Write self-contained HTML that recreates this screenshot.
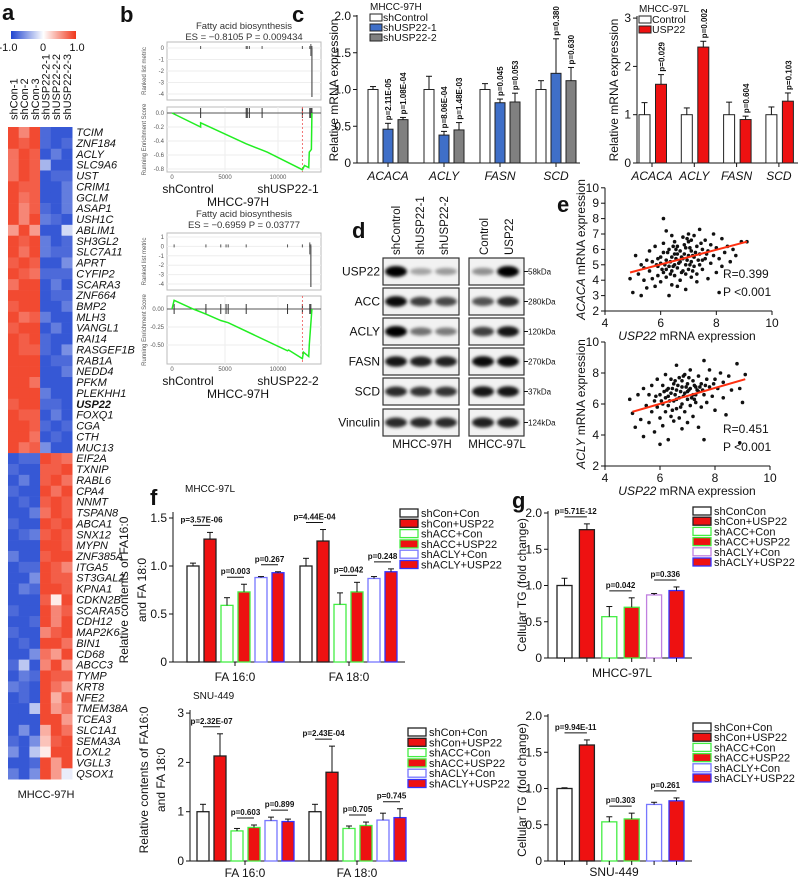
<!DOCTYPE html>
<html><head><meta charset="utf-8"><style>
html,body{margin:0;padding:0;background:#fff;}
svg{display:block;font-family:"Liberation Sans",Arial,sans-serif;}
</style></head>
<body>
<svg id="fig" width="798" height="878" viewBox="0 0 798 878" xmlns="http://www.w3.org/2000/svg">
<defs>
<linearGradient id="cbar" x1="0" x2="1" y1="0" y2="0"><stop offset="0" stop-color="#2045d0"/><stop offset="0.5" stop-color="#ffffff"/><stop offset="1" stop-color="#f0361a"/></linearGradient>
<filter id="blur" x="-30%" y="-80%" width="160%" height="260%"><feGaussianBlur stdDeviation="1.6"/></filter>
</defs>
</svg>
<script>
// ---------------- DATA ----------------
const hmGenes=["TCIM","ZNF184","ACLY","SLC9A6","UST","CRIM1","GCLM","ASAP1","USH1C","ABLIM1","SH3GL2","SLC7A11","APRT","CYFIP2","SCARA3","ZNF664","BMP2","MLH3","VANGL1","RAI14","RASGEF1B","RAB1A","NEDD4","PFKM","PLEKHH1","USP22","FOXQ1","CGA","CTH","MUC13",
"EIF2A","TXNIP","RABL6","CPA4","NNMT","TSPAN8","ABCA1","SNX12","MYPN","ZNF385A","ITGA5","ST3GAL2","KPNA1","CDKN2B","SCARA5","CDH12","MAP2K6","BIN1","CD68","ABCC3","TYMP","KRT8","NFE2","TMEM38A","TCEA3","SLC1A1","SEMA3A","LOXL2","VGLL3","QSOX1"];
const hmSamples=["shCon-1","shCon-2","shCon-3","shUSP22-2-1","shUSP22-2-2","shUSP22-2-3"];
const hmValues=[
[9,6,9,-8,-9,-9],[9,8,9,-8,-9,-8],[7,9,8,-9,-7,-9],[7,9,8,-4,-9,-9],[7,9,8,-9,-8,-8],[9,8,8,-9,-9,-7],[9,7,8,-9,-9,-7],[9,6,8,-8,-9,-7],[9,6,9,-7,-8,-9],[5,9,5,-9,-9,-2],
[9,8,9,-7,-9,-8],[9,7,9,-7,-8,-8],[8,9,8,-9,-9,-6],[9,8,7,-8,-8,-8],[7,9,9,-9,-7,-9],[9,9,9,-9,-8,-8],[8,9,9,-9,-9,-7],[9,7,8,-7,-9,-9],[8,9,9,-9,-7,-9],[9,8,9,-8,-9,-9],
[9,8,8,-8,-9,-6],[9,9,9,-9,-8,-8],[9,9,9,-9,-9,-7],[9,9,7,-9,-9,-9],[9,9,9,-7,-9,-9],[8,9,9,-8,-8,-9],[9,8,8,-9,-7,-9],[9,9,8,-8,-9,-8],[9,9,7,-9,-8,-9],[9,7,8,-6,-9,-9],
[-9,-8,-8,9,8,7],[-8,-9,-9,8,8,9],[-9,-7,-9,8,9,7],[-8,-9,-9,9,7,9],[-9,-8,-9,8,9,8],[-9,-9,-7,7,9,8],[-8,-9,-9,9,8,9],[-9,-8,-7,8,9,8],[-9,-9,-9,9,9,8],[-7,-9,-9,8,9,9],
[-9,-8,-8,9,8,6],[-9,-9,-6,9,8,8],[-9,-7,-8,9,9,8],[-9,-9,-9,8,1,9],[-8,-9,-9,9,6,8],[-9,-9,-8,9,6,9],[-8,-9,-9,6,8,9],[-9,-8,-9,9,9,7],[-9,-9,-6,7,5,9],[-8,-3,-9,6,9,5],
[-9,-7,-8,9,8,8],[-7,-8,-9,9,7,5],[-9,-8,-9,9,4,8],[-9,-9,-3,9,5,7],[-9,-9,-9,9,9,5],[-9,-6,-9,4,9,7],[-8,-9,-6,3,8,9],[-6,-9,-3,1,9,9],[-9,-9,-8,9,5,9],[-7,-9,-6,9,5,-1]];

const gsea1Rank=[0,2700,2700,7000,8500,9000,12300,12500,12900,12950,13150,13200];
const gsea1ES=[0,-0.2,-0.14,-0.44,-0.53,-0.56,-0.81,-0.75,-0.78,-0.56,-0.52,0];
const gsea1Hits=[2700,7000,7100,7300,8500,12300,13000,13100,13200];
const gsea2Rank=[0,200,2000,3200,4600,5300,10900,11000,12300,12400,12900,12950,13200];
const gsea2ES=[0,0.12,0,-0.07,-0.16,-0.19,-0.58,-0.57,-0.69,-0.6,-0.66,-0.5,0];
const gsea2Hits=[200,3200,4600,5100,5300,7000,10900,12300,13000,13100];

const cGenes=["ACACA","ACLY","FASN","SCD"];
const cH_ctrl=[1.0,1.0,1.0,1.0];
const cH_sh1=[0.46,0.38,0.82,1.22];
const cH_sh2=[0.59,0.45,0.83,1.12];
const cH_ctrlErr=[0.04,0.18,0.08,0.12];
const cH_sh1Err=[0.08,0.05,0.05,0.47];
const cH_sh2Err=[0.03,0.10,0.12,0.18];
const cH_p1=["p=2.11E-05","p=8.06E-04","p=0.045","p=0.380"];
const cH_p2=["p=1.08E-04","p=1.48E-03","p=0.053","p=0.630"];
const cL_ctrl=[1.0,1.0,1.0,1.0];
const cL_usp=[1.63,2.40,0.90,1.28];
const cL_ctrlErr=[0.25,0.14,0.26,0.16];
const cL_uspErr=[0.20,0.12,0.07,0.17];
const cL_p=["p=0.029","p=0.002","p=0.604","p=0.103"];

const wbProteins=["USP22","ACC","ACLY","FASN","SCD","Vinculin"];
const wbKda=["58kDa","280kDa","120kDa","270kDa","37kDa","124kDa"];
const wbLeft=[[1,0.2,0.25],[0.95,0.7,0.65],[1,0.45,0.4],[0.9,0.85,0.85],[0.8,0.75,0.75],[0.8,0.8,0.8]];
const wbRight=[[0.3,1],[0.6,0.8],[0.7,0.9],[0.95,0.95],[0.9,0.9],[0.85,0.85]];

const e1Pts=[[4.9,4.1],[5.0,3.2],[5.1,5.6],[5.2,4.4],[5.3,3.0],[5.3,5.0],[5.4,4.8],[5.5,5.3],[5.5,3.5],[5.6,4.6],[5.6,5.9],[5.7,4.1],[5.7,5.2],[5.8,3.6],[5.8,6.2],[5.9,4.9],[5.9,4.3],[6.0,5.5],[6.0,3.9],[6.0,5.1],[6.1,4.5],[6.1,6.4],[6.1,5.8],[6.2,4.2],[6.2,5.3],[6.2,7.2],[6.3,4.9],[6.3,3.0],[6.3,6.0],[6.4,4.6],[6.4,5.5],[6.4,3.7],[6.5,5.0],[6.5,6.5],[6.5,4.3],[6.6,5.7],[6.6,4.8],[6.6,6.2],[6.7,5.2],[6.7,4.0],[6.7,5.9],[6.8,4.6],[6.8,6.8],[6.8,5.4],[6.9,5.0],[6.9,3.4],[6.9,6.1],[7.0,4.7],[7.0,5.6],[7.0,6.5],[7.1,5.2],[7.1,4.2],[7.1,5.9],[7.2,6.9],[7.2,4.9],[7.2,5.5],[7.3,6.2],[7.3,4.4],[7.4,5.7],[7.4,7.3],[7.4,5.0],[7.5,6.0],[7.5,4.7],[7.6,5.4],[7.6,6.6],[7.7,4.1],[7.7,5.9],[7.8,6.3],[7.8,5.1],[7.9,7.0],[7.9,5.6],[8.0,4.5],[8.0,6.1],[8.1,5.4],[8.2,6.7],[8.2,4.9],[8.3,5.8],[8.4,6.2],[8.5,5.2],[8.6,6.0],[8.7,5.6],[8.9,6.5],[9.1,6.5],[6.1,8.0],[5.4,4.0],[6.6,3.6],[7.3,3.9],[8.1,3.2],[7.0,7.0],[6.4,6.9],[6.2,4.7],[6.9,4.4],[7.5,5.3],[6.5,5.7],[7.1,6.6],[5.9,5.4],
[6.15,5.0],[6.35,5.2],[6.45,4.9],[6.55,5.4],[6.65,5.1],[6.75,5.5],[6.85,5.7],[6.95,5.3],[7.05,5.0],[7.15,5.6],[7.25,5.8],[7.35,5.3],[6.25,5.8],[6.55,6.0],[6.85,6.3],[7.05,6.1],[6.35,4.4],[6.75,4.5],[7.15,4.6],[5.85,5.0],[6.05,4.7],[7.45,6.4],[7.65,5.7],[6.95,6.7],[6.45,6.2]];
const e1Line=[[4.9,4.5],[9.1,6.5]];
const e2Pts=[[4.9,6.3],[5.0,5.4],[5.1,4.5],[5.2,6.6],[5.3,5.0],[5.4,7.0],[5.4,3.9],[5.5,5.9],[5.6,6.6],[5.6,4.8],[5.7,7.2],[5.7,5.5],[5.8,6.2],[5.8,4.2],[5.9,7.6],[5.9,5.8],[6.0,6.6],[6.0,5.1],[6.1,7.2],[6.1,6.0],[6.1,4.6],[6.2,7.9],[6.2,6.4],[6.2,5.5],[6.3,7.0],[6.3,5.9],[6.3,3.7],[6.4,6.7],[6.4,7.6],[6.4,5.2],[6.5,6.2],[6.5,7.3],[6.5,4.9],[6.6,6.9],[6.6,5.7],[6.6,8.5],[6.7,6.4],[6.7,7.7],[6.7,5.1],[6.8,7.1],[6.8,6.0],[6.8,4.4],[6.9,6.7],[6.9,7.9],[6.9,5.5],[7.0,7.3],[7.0,6.3],[7.0,4.8],[7.1,7.0],[7.1,5.9],[7.1,8.2],[7.2,6.6],[7.2,7.5],[7.2,5.2],[7.3,7.1],[7.3,6.1],[7.4,7.8],[7.4,6.8],[7.4,4.5],[7.5,7.3],[7.5,5.8],[7.6,8.8],[7.6,6.6],[7.7,7.6],[7.7,6.1],[7.8,7.1],[7.8,8.2],[7.9,6.5],[8.0,7.6],[8.0,5.6],[8.1,7.0],[8.2,8.0],[8.3,6.4],[8.3,7.4],[8.4,5.3],[8.5,7.8],[8.6,6.9],[8.8,8.6],[8.9,7.0],[9.0,6.1],[9.1,7.9],[8.9,3.5],[6.0,3.4],[7.6,3.7],[6.6,6.3],[7.0,6.8],[6.3,6.5],[7.3,6.6],[6.8,7.5],
[6.15,6.8],[6.35,6.2],[6.45,7.0],[6.55,6.6],[6.65,7.2],[6.75,6.8],[6.85,6.5],[6.95,7.1],[7.05,6.9],[7.15,6.4],[7.25,7.2],[7.35,6.9],[7.45,7.1],[7.55,6.9],[6.25,6.9],[6.55,7.5],[6.85,7.8],[7.05,7.7],[7.25,6.3],[6.45,5.6],[6.75,5.8],[7.65,7.2],[5.85,6.5],[6.05,6.2],[7.95,7.3]];
const e2Line=[[5.0,5.5],[9.1,7.6]];

const fGroups=["FA 16:0","FA 18:0"];
const fTreat=["shCon+Con","shCon+USP22","shACC+Con","shACC+USP22","shACLY+Con","shACLY+USP22"];
const f97L_16=[1.0,1.28,0.59,0.73,0.88,0.93];
const f97L_18=[1.0,1.26,0.60,0.73,0.87,0.94];
const f97L_16err=[0.03,0.07,0.08,0.08,0.01,0.01];
const f97L_18err=[0.08,0.12,0.12,0.10,0.02,0.03];
const f97L_p16=["p=3.57E-06","p=0.003","p=0.267"];
const f97L_p18=["p=4.44E-04","p=0.042","p=0.248"];
const fSNU_16=[1.0,2.13,0.61,0.68,0.82,0.80];
const fSNU_18=[1.0,1.80,0.66,0.72,0.83,0.88];
const fSNU_16err=[0.15,0.45,0.05,0.05,0.07,0.05];
const fSNU_18err=[0.15,0.53,0.05,0.07,0.14,0.18];
const fSNU_p16=["p=2.32E-07","p=0.603","p=0.899"];
const fSNU_p18=["p=2.43E-04","p=0.705","p=0.745"];

const g97L=[1.0,1.77,0.57,0.70,0.87,0.93];
const g97Lerr=[0.10,0.08,0.14,0.13,0.02,0.05];
const g97Lp=["p=5.71E-12","p=0.042","p=0.336"];
const gSNU=[1.0,1.60,0.54,0.58,0.78,0.83];
const gSNUerr=[0.01,0.07,0.07,0.08,0.03,0.04];
const gSNUp=["p=9.94E-11","p=0.303","p=0.261"];
const gTicks=[0,0.5,1.0,1.5,2.0];

// ---------------- HELPERS ----------------
const NS='http://www.w3.org/2000/svg';
const svg=document.getElementById('fig');
function mk(tag,attrs,parent){const e=document.createElementNS(NS,tag);for(const k in attrs)e.setAttribute(k,attrs[k]);(parent||svg).appendChild(e);return e;}
function T(x,y,s,size,name,o){o=o||{};
 const t=mk('text',{x:x,y:y,'font-size':size,'text-anchor':o.a||'start','fill':o.fill||'#111'});
 if(o.it)t.setAttribute('font-style','italic');
 if(o.b)t.setAttribute('font-weight','bold');
 if(o.rot)t.setAttribute('transform','rotate(-90 '+x+' '+y+')');
 t.textContent=s;
 
 
 return t;}
function L(x1,y1,x2,y2,name,st,sw,dash){
 const l=mk('line',{x1:x1,y1:y1,x2:x2,y2:y2,stroke:st||'#111','stroke-width':sw||1});
 if(dash)l.setAttribute('stroke-dasharray',dash);
 
 
 return l;}
function R(x,y,w,h,name,fill,stroke,sw){
 const r=mk('rect',{x:x,y:y,width:Math.max(0,w),height:Math.max(0,h),fill:fill||'none',stroke:stroke||'none','stroke-width':sw||1});
 
 
 return r;}
function errbar(cx,yTop,yErr,name){L(cx,yTop,cx,yErr,name);L(cx-3,yErr,cx+3,yErr,name+'-cap');}
function hmColor(v){v=Math.max(-1,Math.min(1,v));
 const blue=[32,69,208],red=[240,54,26];
 const c=v<0?blue:red;const t=Math.abs(v);
 return 'rgb('+c.map(k=>Math.round(255+(k-255)*t)).join(',')+')';}

// ---------------- PANEL A ----------------
T(2,20,'a',22,'panel-label-a',{b:true});
R(11,31,65,8,'heatmap-color-scale','url(#cbar)');
T(8,51,'-1.0',11,'color-scale-min',{a:'middle'});
T(43,51,'0',11,'color-scale-mid',{a:'middle'});
T(77,51,'1.0',11,'color-scale-max',{a:'middle'});
const hmX0=8,hmY0=127,cellW=10.7,cellH=10.87;
hmSamples.forEach((s,i)=>{T(hmX0+cellW*i+cellW/2+4,120,s,11,'heatmap-column-label',{rot:true});});
hmValues.forEach((row,r)=>{
 row.forEach((v,c)=>{
  const cell=R(hmX0+c*cellW,hmY0+r*cellH,cellW+0.3,cellH+0.3,'heatmap-cell',hmColor(v/10));
  
 });
 const g=T(hmX0+6*cellW+4,hmY0+r*cellH+cellH-1.8,hmGenes[r],11,'gene-label',{it:true,b:hmGenes[r]==='USP22'});
 
});
T(46,798,'MHCC-97H',11,'heatmap-cell-line-label',{a:'middle'});

// ---------------- PANEL B ----------------
T(120,22,'b',22,'panel-label-b',{b:true});
function gsea(c,ranks,scores,hits,topTicks,botTicks,rightLabel,idx){
 const x0=167,x1=321,rx0=172,ppr=53/5000;
 const sx=r=>rx0+r*ppr;
 T(244,c.titleY,'Fatty acid biosynthesis',9.5,'gsea-title-'+idx,{a:'middle',fill:'#333'});
 T(244,c.esY,c.es,9.5,'gsea-es-'+idx,{a:'middle',fill:'#333'});
 R(x0,c.uy0,x1-x0,c.uy1-c.uy0,'ranked-metric-box','#fff','#bbb');
 topTicks.forEach((t,i)=>{const y=c.ut0+i*((c.ut1-c.ut0)/(topTicks.length-1));
  L(x0,y,x1,y,'grid-line','#eee');T(x0-3,y+2,t,6,'ranked-metric-tick',{a:'end',fill:'#555'});});
 T(146,(c.uy0+c.uy1)/2,'Ranked list metric',6,'ranked-metric-axis-title',{a:'middle',rot:true,fill:'#555'});
 const zTop=c.ut0+c.zIdx*((c.ut1-c.ut0)/(topTicks.length-1));
 hits.forEach(h=>{L(sx(h),zTop-2,sx(h),zTop+1,'ranked-metric-tick-mark','#555');});
 L(sx(hits[hits.length-1]),zTop,sx(hits[hits.length-1]),c.uy1-3,'ranked-metric-bar','#555',1.2);
 L(sx(hits[hits.length-2]),zTop-4,sx(hits[hits.length-2]),zTop+8,'ranked-metric-bar','#555',1);
 R(x0,c.ly0,x1-x0,c.ly1-c.ly0,'enrichment-score-box','#fff','#bbb');
 const b0=botTicks[0],bL=botTicks[botTicks.length-1];
 const sy=v=>c.lt0+(b0-v)/(b0-bL)*(c.lt1-c.lt0);
 botTicks.forEach(t=>{L(x0,sy(t),x1,sy(t),'grid-line','#eee');T(x0-3,sy(t)+2,t.toFixed(c.dec),6,'enrichment-score-tick',{a:'end',fill:'#555'});});
 [5000,10000].forEach(v=>L(sx(v),c.ly0,sx(v),c.ly1,'grid-line','#eee'));
 L(x0,sy(0),x1,sy(0),'zero-line','#555',1);
 hits.forEach(h=>{L(sx(h),sy(0)-5,sx(h),sy(0)+5,'gene-hit-mark','#333',1);});
 const minI=scores.indexOf(Math.min(...scores));
 L(sx(ranks[minI]),c.ly0,sx(ranks[minI]),c.ly1,'es-position-line','#e55',0.8,'2,2');
 const p=mk('polyline',{points:ranks.map((r,i)=>sx(r)+','+sy(scores[i])).join(' '),fill:'none',stroke:'#22ee22','stroke-width':1.5});
 
 
 T(146,(c.ly0+c.ly1)/2,'Running Enrichment Score',6,'enrichment-axis-title',{a:'middle',rot:true,fill:'#555'});
 [0,5000,10000].forEach(v=>T(sx(v),c.ly1+7,String(v),6,'rank-tick',{a:'middle',fill:'#555'}));
 T(188,c.ly1+21,'shControl',12,'gsea-left-label',{a:'middle'});
 T(288,c.ly1+21,rightLabel,12,'gsea-right-label',{a:'middle'});
 T(238,c.ly1+34,'MHCC-97H',12,'gsea-cell-line',{a:'middle'});
}
gsea({titleY:29,esY:40,es:'ES = −0.8105 P = 0.009434',uy0:42,uy1:100,ut0:48,ut1:94,zIdx:0,ly0:107,ly1:172,lt0:113,lt1:169,dec:1},
 gsea1Rank,gsea1ES,gsea1Hits,['0','-1','-2','-3','-4'],[0,-0.2,-0.4,-0.6,-0.8],'shUSP22-1',1);
gsea({titleY:217,esY:228,es:'ES = −0.6959 P = 0.03777',uy0:233,uy1:290,ut0:237,ut1:284,zIdx:1,ly0:296,ly1:364,lt0:309,lt1:345,dec:2},
 gsea2Rank,gsea2ES,gsea2Hits,['1','0','-1','-2','-3','-4'],[0,-0.25,-0.5],'shUSP22-2',2);

// ---------------- PANEL C ----------------
T(292,22,'c',22,'panel-label-c',{b:true});
function yAxis(x,yZero,ppu,ticks,fmt,name,top){
 L(x,yZero,x,top,name+'-line');
 ticks.forEach(t=>{const y=yZero-t*ppu;L(x-4,y,x,y,name+'-tick');T(x-6,y+4,fmt(t),12,name+'-tick-label',{a:'end'});});
}
const cHz=163,cHppu=73.5;
yAxis(357,cHz,cHppu,[0,0.5,1.0,1.5,2.0],t=>t===0?'0':t.toFixed(1),'c-left-y-axis',15);
L(357,cHz,580,cHz,'c-left-x-axis');
T(338,90,'Relative mRNA expression',12,'c-left-y-title',{a:'middle',rot:true});
cGenes.forEach((g,i)=>{
 const cx=388+i*56;
 L(cx,cHz,cx,cHz+4,'x-tick');
 T(cx,cHz+17,g,12,'c-left-gene-label',{a:'middle',it:true});
 const series=[[cH_ctrl,cH_ctrlErr,'#fff',null],[cH_sh1,cH_sh1Err,'#3f6fc8',cH_p1],[cH_sh2,cH_sh2Err,'#808080',cH_p2]];
 series.forEach((s,j)=>{
  const bx=cx-20+j*15,v=s[0][i],e=s[1][i];
  const b=R(bx,cHz-v*cHppu,10,v*cHppu,'bar',s[2],'#222');
  
  errbar(bx+5,cHz-v*cHppu,cHz-(v+e)*cHppu,'error-bar');
  if(s[3])T(bx+8,cHz-(v+e)*cHppu-3,s[3][i],8,'p-value-label',{rot:true,b:true});
 });
});
T(370,10,'MHCC-97H',10,'c-left-legend-title');
[['shControl','#fff'],['shUSP22-1','#3f6fc8'],['shUSP22-2','#808080']].forEach((l,i)=>{
 R(370,14+i*10,12,7,'legend-swatch',l[1],'#222');
 T(383,21+i*10,l[0],10.5,'legend-entry');
});
const cLz=163,cLppu=48.3;
yAxis(637,cLz,cLppu,[0,1,2,3],t=>String(t),'c-right-y-axis',16);
L(637,cLz,798,cLz,'c-right-x-axis');
T(618,90,'Relative mRNA expression',12,'c-right-y-title',{a:'middle',rot:true});
cGenes.forEach((g,i)=>{
 const gx=639+i*42.3;
 T(gx+13,cLz+17,g,12,'c-right-gene-label',{a:'middle',it:true});
 L(gx+13,cLz,gx+13,cLz+4,'x-tick');
 [[cL_ctrl,cL_ctrlErr,'#fff'],[cL_usp,cL_uspErr,'#ee1111']].forEach((s,j)=>{
  const bx=gx+j*16.5,v=s[0][i],e=s[1][i];
  const b=R(bx,cLz-v*cLppu,11,v*cLppu,'bar',s[2],'#222');
  
  errbar(bx+5.5,cLz-v*cLppu,cLz-(v+e)*cLppu,'error-bar');
  if(j===1)T(bx+9,cLz-(v+e)*cLppu-3,cL_p[i],8,'p-value-label',{rot:true,b:true});
 });
});
T(639,12,'MHCC-97L',10,'c-right-legend-title');
R(639,16,12,7,'legend-swatch','#fff','#222');T(652,23,'Control',10.5,'legend-entry');
R(639,26,12,7,'legend-swatch','#ee1111','#222');T(652,33,'USP22',10.5,'legend-entry');

// ---------------- PANEL D ----------------
T(352,238,'d',22,'panel-label-d',{b:true});
['shControl','shUSP22-1','shUSP22-2'].forEach((s,i)=>T(400+i*24,255,s,11.5,'blot-lane-label',{rot:true}));
['Control','USP22'].forEach((s,i)=>T(488+i*25,255,s,11.5,'blot-lane-label',{rot:true}));
const rowTops=[258,288,318,348,378,409],rowH=27;
wbProteins.forEach((p,r)=>{
 const y=rowTops[r];
 R(383,y,76,rowH,'blot-left-'+p,'#f2f2f2','#333',1.2);
 R(469,y,55,rowH,'blot-right-'+p,'#f2f2f2','#333',1.2);
 T(380,y+rowH/2+4,p,12,'blot-protein-label',{a:'end'});
 L(524,y+rowH/2,528,y+rowH/2,'kda-tick');
 T(528,y+rowH/2+3,wbKda[r],8,'kda-label');
 wbLeft[r].forEach((v,c)=>{const e=mk('ellipse',{cx:396+c*25,cy:y+rowH/2,rx:11,ry:3+2.5*v,fill:'#000','fill-opacity':Math.min(1,0.15+v*0.85),filter:'url(#blur)'});
  
  });
 wbRight[r].forEach((v,c)=>{const e=mk('ellipse',{cx:483+c*25,cy:y+rowH/2,rx:11,ry:3+2.5*v,fill:'#000','fill-opacity':Math.min(1,0.15+v*0.85),filter:'url(#blur)'});
  
  });
});
T(422,448,'MHCC-97H',11.5,'blot-cell-line-left',{a:'middle'});
T(497,448,'MHCC-97L',11.5,'blot-cell-line-right',{a:'middle'});

// ---------------- PANEL E ----------------
T(557,212,'e',22,'panel-label-e',{b:true});
function scatter(pts,line,y0px,ppuY,ticks,ylab,rTxt,idx,x10){
 const ax=605,ppuX=(x10-ax)/6;
 const sx=v=>ax+(v-4)*ppuX,sy=v=>y0px-(v-2)*ppuY;
 L(ax,y0px,ax,sy(10),'e-y-axis-'+idx);
 L(ax,y0px,x10,y0px,'e-x-axis-'+idx);
 ticks.forEach(t=>{L(ax-4,sy(t),ax,sy(t),'y-tick');T(ax-6,sy(t)+4,String(t),12,'e-y-tick-label',{a:'end'});});
 [4,6,8,10].forEach(t=>{L(sx(t),y0px,sx(t),y0px+4,'x-tick');T(sx(t),y0px+16,String(t),12,'e-x-tick-label',{a:'middle'});});
 pts.forEach(p=>{const c=mk('circle',{cx:sx(p[0]),cy:sy(p[1]),r:1.8,fill:'#111'});
  
  });
 L(sx(line[0][0]),sy(line[0][1]),sx(line[1][0]),sy(line[1][1]),'regression-line','#ff3010',2);
 const t=T(585,(y0px+sy(10))/2,'',12,'e-y-title-'+idx,{a:'middle',rot:true});
 const ts=document.createElementNS(NS,'tspan');ts.setAttribute('font-style','italic');ts.textContent=ylab;t.appendChild(ts);t.appendChild(document.createTextNode(' mRNA expression'));
 const xt=T(687,y0px+29,'',12,'e-x-title-'+idx,{a:'middle'});
 const ts2=document.createElementNS(NS,'tspan');ts2.setAttribute('font-style','italic');ts2.textContent='USP22';xt.appendChild(ts2);xt.appendChild(document.createTextNode(' mRNA expression'));
 T(723,y0px-33,rTxt,12,'correlation-r');
 T(723,y0px-15,'P <0.001',12,'correlation-p');
}
scatter(e1Pts,e1Line,311,15.4,[2,3,4,5,6,7,8,9,10],'ACACA','R=0.399',1,772);
scatter(e2Pts,e2Line,466,15.5,[2,4,6,8,10],'ACLY','R=0.451',2,770);

// ---------------- PANEL F ----------------
T(150,505,'f',22,'panel-label-f',{b:true});
const treatFill=['#fff','#ee1111','#fff','#ee1111','#fff','#ee1111'];
const treatStroke=['#222','#222','#44ee44','#44ee44','#7777ff','#3333ff'];
function groupedBars(prefix,valsList,errsList,pList,starts,pitch,w,yZero,ppu,strokes){
 valsList.forEach((vals,g)=>{
  vals.forEach((v,i)=>{
   const bx=starts[g]+i*pitch-w/2,e=errsList[g][i];
   const b=R(bx,yZero-v*ppu,w,v*ppu,'bar',treatFill[i],strokes[i],1.3);
   
   errbar(bx+w/2,yZero-v*ppu,yZero-(v+e)*ppu,'error-bar');
  });
  for(let k=0;k<3;k++){
   const a=starts[g]+2*k*pitch,b2=a+pitch;
   const top=Math.max(vals[2*k]+errsList[g][2*k],vals[2*k+1]+errsList[g][2*k+1]);
   const y=yZero-top*ppu-7;
   L(a,y,b2,y,'significance-bracket');
   T((a+b2)/2,y-3,pList[g][k],8,'p-value-label',{a:'middle',b:true});
  }
 });
}
function legend(x,y0,step,name,strokes,labels){
 labels.forEach((l,i)=>{R(x,y0+i*step,18,8,name+'-swatch',treatFill[i],strokes[i],1.3);T(x+21,y0+i*step+8,l,11,name+'-entry');});
}
T(185,492,'MHCC-97L',10,'f-top-title');
const fTz=662,fTppu=96;
yAxis(173,fTz,fTppu,[0,0.5,1.0,1.5],t=>t===0?'0':t.toFixed(1),'f-top-y-axis',512);
L(173,fTz,405,fTz,'f-top-x-axis');
groupedBars('f-top',[f97L_16,f97L_18],[f97L_16err,f97L_18err],[f97L_p16,f97L_p18],[193,306],17,12,fTz,fTppu,treatStroke);
L(235,fTz,235,fTz+4,'x-tick');L(349,fTz,349,fTz+4,'x-tick');
T(235,681,fGroups[0],12,'f-top-group-label',{a:'middle'});
T(349,681,fGroups[1],12,'f-top-group-label',{a:'middle'});
T(128,590,'Relative contents of FA16:0',12,'f-top-y-title',{a:'middle',rot:true});
T(146,590,'and FA 18:0',12,'f-top-y-title-2',{a:'middle',rot:true});
legend(400,509,10.3,'f-top-legend',treatStroke,fTreat);

T(193,699,'SNU-449',10,'f-bottom-title');
const fBz=861,fBppu=49.3;
yAxis(190,fBz,fBppu,[0,1,2,3],t=>String(t),'f-bottom-y-axis',710);
L(190,fBz,407,fBz,'f-bottom-x-axis');
groupedBars('f-bottom',[fSNU_16,fSNU_18],[fSNU_16err,fSNU_18err],[fSNU_p16,fSNU_p18],[203,315],17,12,fBz,fBppu,treatStroke);
L(245,fBz,245,fBz+4,'x-tick');L(357,fBz,357,fBz+4,'x-tick');
T(245,877,fGroups[0],12,'f-bottom-group-label',{a:'middle'});
T(357,877,fGroups[1],12,'f-bottom-group-label',{a:'middle'});
T(148,780,'Relative contents of FA16:0',12,'f-bottom-y-title',{a:'middle',rot:true});
T(165,780,'and FA 18:0',12,'f-bottom-y-title-2',{a:'middle',rot:true});
legend(408,728,10.3,'f-bottom-legend',treatStroke,fTreat);

// ---------------- PANEL G ----------------
T(512,508,'g',22,'panel-label-g',{b:true});
const gStrokeTop=['#222','#222','#44ee44','#44ee44','#c080e0','#3333ff'];
const gTz=658,gppu=72.5;
yAxis(548,gTz,gppu,gTicks,t=>t===0?'0':t.toFixed(1),'g-top-y-axis',511);
L(548,gTz,692,gTz,'g-top-x-axis');
groupedBars('g-top',[g97L],[g97Lerr],[g97Lp],[564.5],22.4,15,gTz,gppu,gStrokeTop);
for(let i=0;i<6;i++)L(564.5+i*22.4,gTz,564.5+i*22.4,gTz+4,'x-tick');
T(622,677,'MHCC-97L',12,'g-top-cell-line',{a:'middle'});
T(526,585,'Cellular TG (fold change)',12,'g-top-y-title',{a:'middle',rot:true});
legend(693,507,10.2,'g-top-legend',gStrokeTop,['shConCon','shCon+USP22','shACC+Con','shACC+USP22','shACLY+Con','shACLY+USP22']);

const gBz=861;
yAxis(548,gBz,gppu,gTicks,t=>t===0?'0':t.toFixed(1),'g-bottom-y-axis',714);
L(548,gBz,692,gBz,'g-bottom-x-axis');
groupedBars('g-bottom',[gSNU],[gSNUerr],[gSNUp],[564.5],22.4,15,gBz,gppu,treatStroke);
for(let i=0;i<6;i++)L(564.5+i*22.4,gBz,564.5+i*22.4,gBz+4,'x-tick');
T(614,876,'SNU-449',12,'g-bottom-cell-line',{a:'middle'});
T(526,790,'Cellular TG (fold change)',12,'g-bottom-y-title',{a:'middle',rot:true});
legend(693,723,10.2,'g-bottom-legend',treatStroke,fTreat);
</script>
</body></html>
